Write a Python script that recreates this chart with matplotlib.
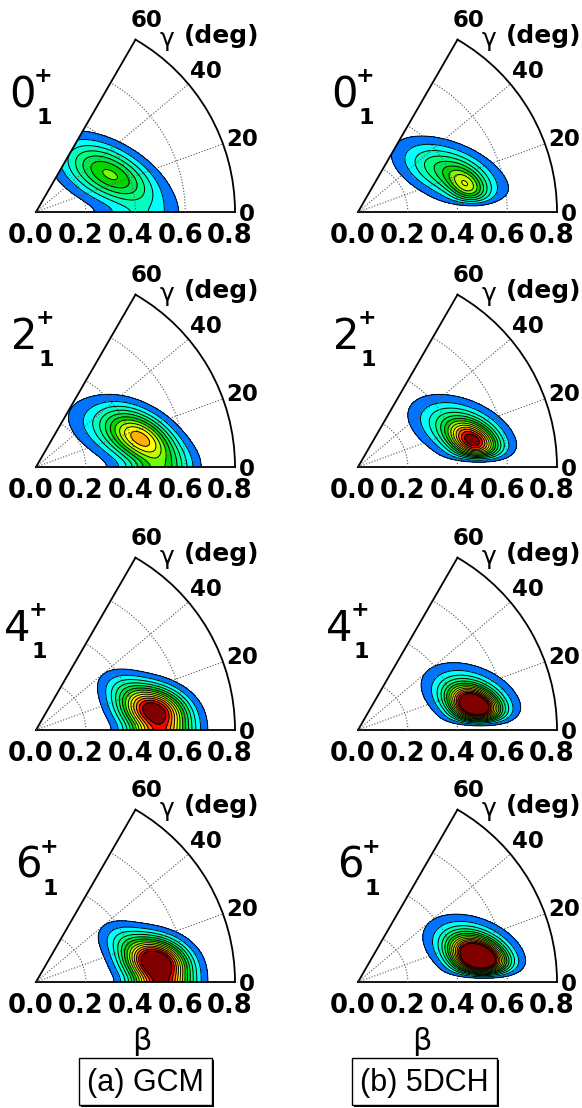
import numpy as np
import matplotlib
matplotlib.use("Agg")
import matplotlib.pyplot as plt
from matplotlib.patches import Rectangle

W, H, DPI = 582, 1108, 100

# ---------------- data ----------------
states = ["0", "2", "4", "6"]
methods = ["(a) GCM", "(b) 5DCH"]
beta_ticks = [0.0, 0.2, 0.4, 0.6, 0.8]
beta_ticklabels = ["0.0", "0.2", "0.4", "0.6", "0.8"]
gamma_ticks = [0, 20, 40, 60]
gamma_ticklabels = ["0", "20", "40", "60"]
levels = [1, 2, 3, 4, 5, 6, 7, 8, 9, 10, 11, 12, 13]
level_colors = ["#0073ff", "#00ffff", "#00ffc0", "#00ff80", "#00e650", "#00d700",
                "#70ff00", "#c0ff00", "#ffff00", "#ffb000", "#ff6a00", "#ff0000",
                "#800000"]

# collective density components:
# [beta0, gamma0 (deg), width along tilt, width across tilt, tilt (deg), height]
gcm_0 = [[0.350, 24.0, 0.130, 0.065, -29, 6.0],
         [0.270, 40.0, 0.120, 0.080, -29, 1.8]]
gcm_2 = [[0.440, 15.0, 0.110, 0.062, -33, 10.0],
         [0.300, 30.0, 0.120, 0.070, -30, 1.8]]
gcm_4 = [[0.480, 9.5, 0.090, 0.060, -15, 14.0],
         [0.390, 26.0, 0.075, 0.050, -20, 2.0]]
gcm_6 = [[0.490, 9.4, 0.085, 0.060, -15, 16.0],
         [0.390, 26.0, 0.075, 0.050, -20, 2.2]]
dch_0 = [[0.403, 23.4, 0.135, 0.065, -22, 5.5],
         [0.451, 12.8, 0.060, 0.040, -40, 4.8]]
dch_2 = [[0.440, 20.0, 0.125, 0.068, -22, 5.0],
         [0.476, 12.1, 0.070, 0.045, -30, 10.0]]
dch_4 = [[0.471, 17.3, 0.120, 0.070, -20, 4.0],
         [0.480, 11.4, 0.070, 0.045, -25, 15.0]]
dch_6 = [[0.480, 17.0, 0.120, 0.070, -20, 4.0],
         [0.495, 11.0, 0.075, 0.048, -25, 17.0]]
panels = [[gcm_0, dch_0], [gcm_2, dch_2], [gcm_4, dch_4], [gcm_6, dch_6]]
# the 5DCH densities vanish on the gamma = 0 edge
edge_damping_deg = [0.0, 5.0]

# ---------------- layout (pixels) ----------------
col_x0 = [36, 358]
row_y0 = [212, 467, 730, 982]
S = 199
label_dx = [-14, -12, -19, -8]
label_dy = [-117, -130, -101, -116]


def density(comps, damp, x, y, gam):
    z = np.zeros_like(x)
    for b0, g0, sl, ss, tilt, amp in comps:
        xc, yc = b0 * np.cos(np.deg2rad(g0)), b0 * np.sin(np.deg2rad(g0))
        c, s = np.cos(np.deg2rad(tilt)), np.sin(np.deg2rad(tilt))
        for yy in (y, -y):
            dx, dy = x - xc, yy - yc
            u = dx * c + dy * s
            v = -dx * s + dy * c
            z += amp * np.exp(-0.5 * (u ** 2 / sl ** 2 + v ** 2 / ss ** 2))
    if damp > 0:
        z *= 1 - np.exp(-(np.rad2deg(gam) / damp) ** 2)
    return z


fig = plt.figure(figsize=(W / DPI, H / DPI), dpi=DPI)
PX = 72.0 / DPI  # points per pixel

th = np.deg2rad(np.linspace(0, 60, 241))
rr = np.linspace(0, 0.8, 321)
TH, RR = np.meshgrid(th, rr)
XX, YY = RR * np.cos(TH), RR * np.sin(TH)

for i in range(4):
    for j in range(2):
        x0, y0 = col_x0[j], row_y0[i]
        ax = fig.add_axes([x0 / W, (H - y0 - 0.067 * S) / H, S / W, S / H],
                          projection="polar")
        ax.set_thetamin(0)
        ax.set_thetamax(60)
        ax.set_rlim(0, 0.8)
        Z = density(panels[i][j], edge_damping_deg[j], XX, YY, TH)
        ax.contourf(TH, RR, Z, levels=levels, colors=level_colors, extend="max", zorder=1)
        ax.contour(TH, RR, Z, levels=levels, colors="k", linewidths=0.7, zorder=2)
        ax.set_xticks(np.deg2rad([20, 40]))
        ax.set_xticklabels([])
        ax.set_yticks([0.2, 0.4, 0.6])
        ax.set_yticklabels([])
        ax.tick_params(length=0)
        ax.set_axisbelow(False)
        ax.grid(True, color="#555555", linestyle=(0, (1, 1.6)), linewidth=0.8)
        for name, sp in ax.spines.items():
            sp.set_linewidth(1.3)
            sp.set_color("k")
        ax.spines["inner"].set_visible(False)

        # beta tick labels under the gamma = 0 edge
        for b, lab in zip(beta_ticks, beta_ticklabels):
            ax.annotate(lab, xy=(0, b), xycoords="data", xytext=(-5 * PX, -31 * PX),
                        textcoords="offset points", ha="center", va="baseline",
                        fontsize=18.5, fontweight="bold", family="DejaVu Sans",
                        annotation_clip=False)
        # gamma labels round the arc
        offs = {0: (12, -2), 20: (19, 4), 40: (17, 13), 60: (11, 19)}
        for g, lab in zip(gamma_ticks, gamma_ticklabels):
            dx, dy = offs[g]
            ax.annotate(lab, xy=(np.deg2rad(g), 0.8), xycoords="data",
                        xytext=(dx * PX, dy * PX), textcoords="offset points",
                        ha="center", va="center", fontsize=16.5, fontweight="bold",
                        family="DejaVu Sans", annotation_clip=False)
        ax.annotate("\u03b3", xy=(np.deg2rad(60), 0.8), xycoords="data",
                    xytext=(31 * PX, 1 * PX), textcoords="offset points",
                    ha="center", va="center", fontsize=18, family="DejaVu Sans",
                    annotation_clip=False)
        ax.annotate("(deg)", xy=(np.deg2rad(60), 0.8), xycoords="data",
                    xytext=(86 * PX, 4 * PX), textcoords="offset points",
                    ha="center", va="center", fontsize=18, fontweight="bold",
                    family="DejaVu Sans", annotation_clip=False)

        # state label  J^+_1
        cx, cy = x0 + label_dx[i], y0 + label_dy[i]
        fig.text(cx / W, 1 - cy / H, states[i], ha="center", va="center",
                 fontsize=30, family="DejaVu Sans")
        fig.text((cx + 21) / W, 1 - (cy - 19) / H, "+", ha="center", va="center",
                 fontsize=16, fontweight="bold", family="DejaVu Sans")
        fig.text((cx + 22) / W, 1 - (cy + 23) / H, "1", ha="center", va="center",
                 fontsize=16, fontweight="bold", family="DejaVu Sans")

# beta axis titles
for bx in (142, 422):
    fig.text(bx / W, 1 - 1042 / H, "\u03b2", ha="center", va="center",
             fontsize=22, family="DejaVu Sans")

# method boxes with shadow
boxes = [(79, 1058, 133, 47), (352, 1058, 145, 47)]
for (bx, by, bw, bh), lab in zip(boxes, methods):
    fig.add_artist(Rectangle(((bx + 2) / W, 1 - (by + bh + 2) / H), bw / W, bh / H,
                             transform=fig.transFigure, facecolor="k", edgecolor="k",
                             lw=0))
    fig.add_artist(Rectangle((bx / W, 1 - (by + bh) / H), bw / W, bh / H,
                             transform=fig.transFigure, facecolor="white",
                             edgecolor="k", lw=1.0))
    fig.text((bx + bw / 2) / W, 1 - (by + bh / 2 + 1) / H, lab, ha="center",
             va="center", fontsize=22, family="Liberation Sans")

fig.savefig("out.png", dpi=DPI)
